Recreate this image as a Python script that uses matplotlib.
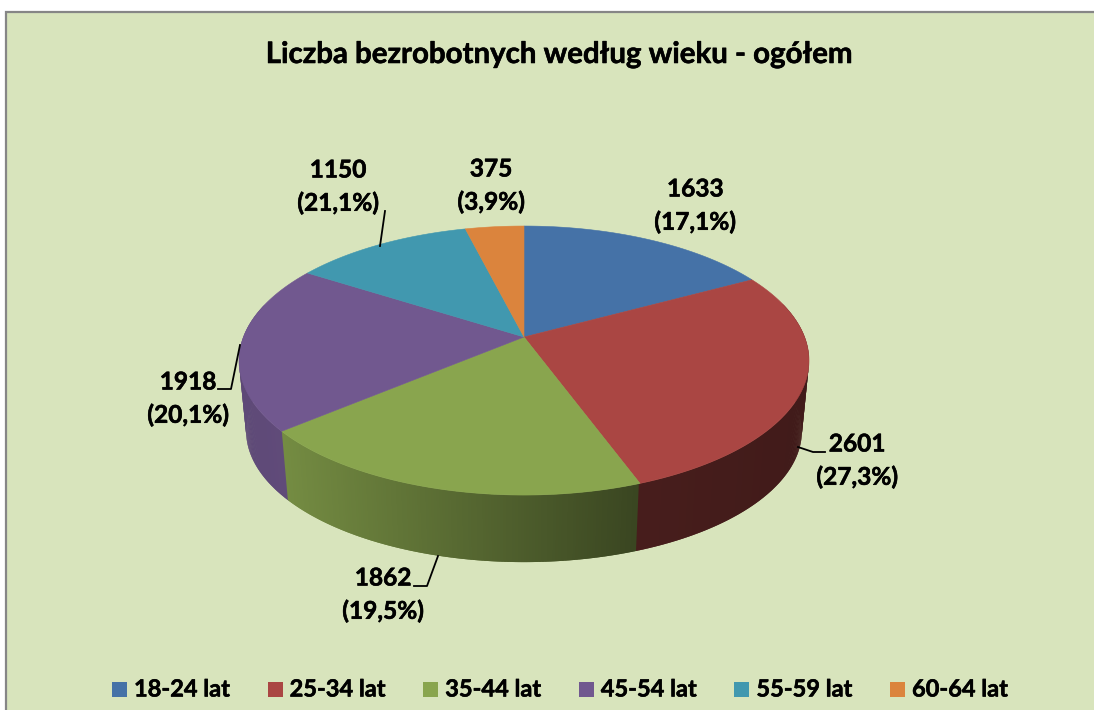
import numpy as np
import matplotlib
matplotlib.use('Agg')
import matplotlib.pyplot as plt
import matplotlib.patheffects as pe
from matplotlib.patches import Rectangle

plt.rcParams['font.family'] = ['Lato', 'DejaVu Sans']

title = 'Liczba bezrobotnych według wieku - ogółem'
categories = ['18-24 lat', '25-34 lat', '35-44 lat', '45-54 lat', '55-59 lat', '60-64 lat']
values = [1633, 2601, 1862, 1918, 1150, 375]
# percentages as printed on the chart
percents = ['17,1%', '27,3%', '19,5%', '20,1%', '21,1%', '3,9%']
colors = ['#4572A7', '#AA4643', '#89A54E', '#71588F', '#4198AF', '#DB843D']

label_x = [695, 857, 383, 188, 338, 491]
label_y = [189, 444, 578, 382, 170, 169]

leaders = [
    ([380, 385], [246, 211]),
    ([240, 231, 218], [345, 389, 389]),
    ([438, 427, 414], [556, 586, 586]),
    ([798, 813, 825], [447, 452, 452]),
]

BG = '#D8E4BC'
FRAME = '#868686'

# pie geometry in pixels, a circle seen in perspective
CX, CY = 524, 337
RX, RY, K = 280.6, 130.4, 0.175
BOTTOM_CY, BOTTOM_SCALE = 408, 0.975

BOLD = [pe.withStroke(linewidth=0.4, foreground='black')]


def project(t, cy=CY, scale=1.0):
    d = 1 + K * np.sin(t)
    return CX + scale * RX * np.cos(t) / d, cy - scale * RY * np.sin(t) / d


def side_shade(x):
    return np.interp(x, [240, 285, 640, 810], [0.83, 0.85, 0.42, 0.38])


fig = plt.figure(figsize=(10.94, 7.10), dpi=100)
ax = fig.add_axes([0, 0, 1, 1])
ax.set_xlim(0, 1094)
ax.set_ylim(710, 0)
ax.axis('off')

# background and the two frame lines that are visible
ax.add_patch(Rectangle((6, 12), 1088, 698, facecolor=BG, edgecolor='none'))
ax.plot([6, 6, 1094], [710, 12, 12], color=FRAME, lw=1.6, solid_joinstyle='miter')

# slice angles, clockwise from the top
fractions = np.array(values) / np.sum(values)
cum = np.cumsum(fractions)
edges = np.pi / 2 - 2 * np.pi * np.concatenate([[0], cum])

# side wall: thin strips, each one overlaps the last so no seams show
step = np.radians(0.5)
for a in np.radians(np.arange(-195, 15, 0.5)):
    b = a + 2 * step
    pos = ((np.pi / 2 - (a + step / 2)) % (2 * np.pi)) / (2 * np.pi)
    idx = min(np.searchsorted(cum, pos), len(colors) - 1)
    x1, y1 = project(np.array([a, b]))
    x2, y2 = project(np.array([b, a]), BOTTOM_CY, BOTTOM_SCALE)
    xmid = (x1.mean() + x2.mean()) / 2
    rgb = np.array(matplotlib.colors.to_rgb(colors[idx])) * side_shade(xmid)
    ax.fill(np.r_[x1, x2], np.r_[y1, y2], color=rgb, lw=0)

# top face
for i, c in enumerate(colors):
    t = np.linspace(edges[i], edges[i + 1], 200)
    x, y = project(t)
    ax.fill(np.r_[CX, x], np.r_[CY, y], color=c, lw=0.4)

ax.text(558, 55, title, ha='center', va='center', fontsize=21.2, fontweight='bold',
        color='black', path_effects=BOLD)

for i in range(len(values)):
    ax.text(label_x[i], label_y[i], str(values[i]), ha='center', va='center',
            fontsize=17.6, fontweight='bold', color='black', path_effects=BOLD)
    ax.text(label_x[i], label_y[i] + 33, '(' + percents[i] + ')', ha='center', va='center',
            fontsize=17.6, fontweight='bold', color='black', path_effects=BOLD)

for lx, ly in leaders:
    ax.plot(lx, ly, color='black', lw=1.3)

# legend
for i, name in enumerate(categories):
    x0 = 112 + i * 155.6
    ax.add_patch(Rectangle((x0, 682), 15, 15, facecolor=colors[i], edgecolor='none'))
    ax.text(x0 + 22, 689, name, ha='left', va='center', fontsize=17, fontweight='bold',
            color='black', path_effects=BOLD)

fig.savefig('out.png', dpi=100, facecolor='white')
